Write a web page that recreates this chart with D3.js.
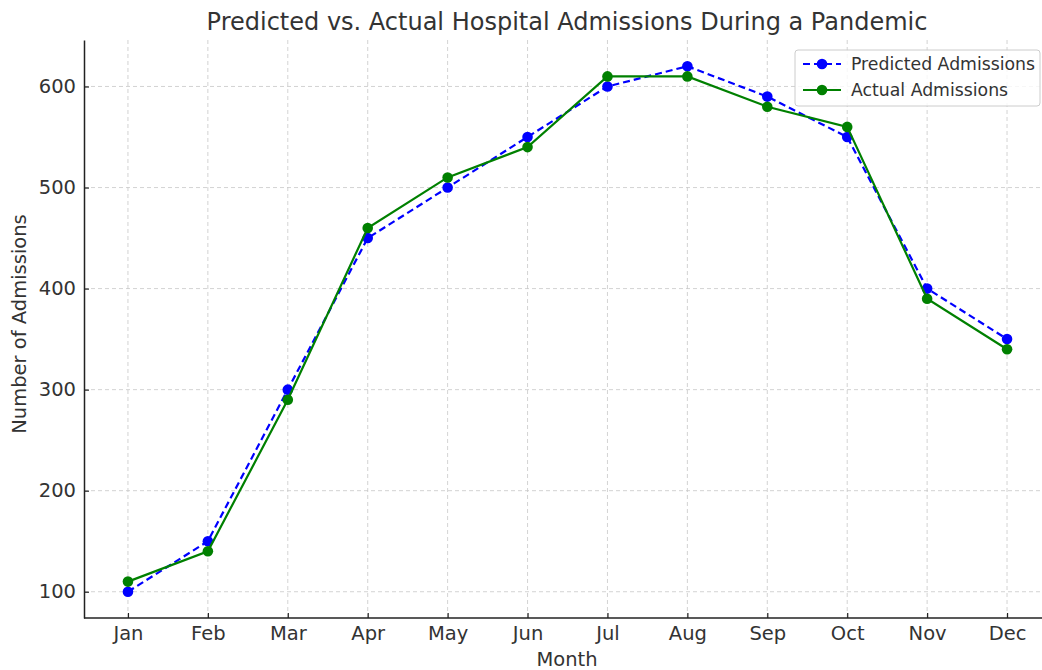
<!DOCTYPE html>
<html>
<head>
<meta charset="utf-8">
<script src="https://cdn.jsdelivr.net/npm/d3@7"></script>
<style>
  body { margin: 0; background: #fff; }
  text { font-family: "DejaVu Sans", sans-serif; }
</style>
</head>
<body>
<div id="chart"></div>
<script>
const months = ["Jan", "Feb", "Mar", "Apr", "May", "Jun", "Jul", "Aug", "Sep", "Oct", "Nov", "Dec"];
const predicted = [100, 150, 300, 450, 500, 550, 600, 620, 590, 550, 400, 350];
const actual = [110, 140, 290, 460, 510, 540, 610, 610, 580, 560, 390, 340];
const yTicks = [100, 200, 300, 400, 500, 600];

const width = 1042,
  height = 670;
const plotLeft = 84, plotRight = 1051, plotTop = 40, plotBottom = 618;

const svg = d3.select("#chart")
  .append("svg")
  .attr("width", width)
  .attr("height", height);

// matplotlib-like 5% margins
const x = d3.scaleLinear().domain([-0.55, 11.55]).range([plotLeft, plotRight]);
const y = d3.scaleLinear().domain([74, 646]).range([plotBottom, plotTop]);

// grid
const grid = svg.append("g")
  .attr("stroke", "#c8c8c8")
  .attr("stroke-width", 0.8)
  .attr("stroke-dasharray", "4,3");
grid.selectAll("line.v")
  .data(months)
  .join("line")
  .attr("class", "v")
  .attr("x1", (d, i) => x(i)).attr("x2", (d, i) => x(i))
  .attr("y1", plotTop).attr("y2", plotBottom);
grid.selectAll("line.h")
  .data(yTicks)
  .join("line")
  .attr("class", "h")
  .attr("x1", plotLeft).attr("x2", width)
  .attr("y1", d => y(d)).attr("y2", d => y(d));

// axes
const xAxis = d3.axisBottom(x)
  .tickValues(d3.range(months.length))
  .tickFormat(i => months[i])
  .tickSizeInner(-5).tickSizeOuter(0).tickPadding(8);
const gx = svg.append("g")
  .attr("transform", `translate(0,${plotBottom})`)
  .call(xAxis);
gx.select(".domain").attr("d", `M${plotLeft},0H${width}`);

const yAxis = d3.axisLeft(y)
  .tickValues(yTicks)
  .tickSizeInner(-5).tickSizeOuter(0).tickPadding(8);
const gy = svg.append("g")
  .attr("transform", `translate(${plotLeft},0)`)
  .call(yAxis);

svg.selectAll(".domain").attr("stroke", "#222").attr("stroke-width", 1.5);
svg.selectAll(".tick line").attr("stroke", "#222").attr("stroke-width", 1.2);
svg.selectAll(".tick text")
  .attr("font-size", 19.5)
  .attr("fill", "#333")
  .style("font-family", "DejaVu Sans, sans-serif");

// series
const series = [
  { name: "Predicted Admissions", values: predicted, color: "#0000ff", dash: "7,4" },
  { name: "Actual Admissions", values: actual, color: "#008000", dash: null }
];

const line = d3.line().x((d, i) => x(i)).y(d => y(d));

series.forEach(s => {
  svg.append("path")
    .datum(s.values)
    .attr("fill", "none")
    .attr("stroke", s.color)
    .attr("stroke-width", 2.2)
    .attr("stroke-dasharray", s.dash)
    .attr("d", line);
  svg.append("g")
    .selectAll("circle")
    .data(s.values)
    .join("circle")
    .attr("cx", (d, i) => x(i))
    .attr("cy", d => y(d))
    .attr("r", 5.3)
    .attr("fill", s.color);
});

// title and labels
svg.append("text")
  .attr("x", 567).attr("y", 30)
  .attr("text-anchor", "middle")
  .attr("font-size", 24)
  .attr("fill", "#333")
  .text("Predicted vs. Actual Hospital Admissions During a Pandemic");

svg.append("text")
  .attr("x", 567).attr("y", 666)
  .attr("text-anchor", "middle")
  .attr("font-size", 19.5)
  .attr("fill", "#333")
  .text("Month");

svg.append("text")
  .attr("transform", `translate(26,324) rotate(-90)`)
  .attr("text-anchor", "middle")
  .attr("font-size", 19.5)
  .attr("fill", "#333")
  .text("Number of Admissions");

// legend
const legend = svg.append("g").attr("transform", "translate(795,50)");
legend.append("rect")
  .attr("width", 245).attr("height", 56)
  .attr("rx", 3)
  .attr("fill", "#fff").attr("fill-opacity", 0.8)
  .attr("stroke", "#ccc");
legend.selectAll("g.item")
  .data(series)
  .join("g")
  .attr("class", "item")
  .attr("transform", (d, i) => `translate(0,${14 + i * 26})`)
  .each(function (d) {
    const g = d3.select(this);
    g.append("line")
      .attr("x1", 8).attr("x2", 46)
      .attr("stroke", d.color).attr("stroke-width", 2.2)
      .attr("stroke-dasharray", d.dash ? "7,4" : null);
    g.append("circle").attr("cx", 27).attr("r", 5.3).attr("fill", d.color);
    g.append("text")
      .attr("x", 56).attr("dy", "0.35em")
      .attr("font-size", 17.3)
      .attr("fill", "#333")
      .text(d.name);
  });
</script>
</body>
</html>
